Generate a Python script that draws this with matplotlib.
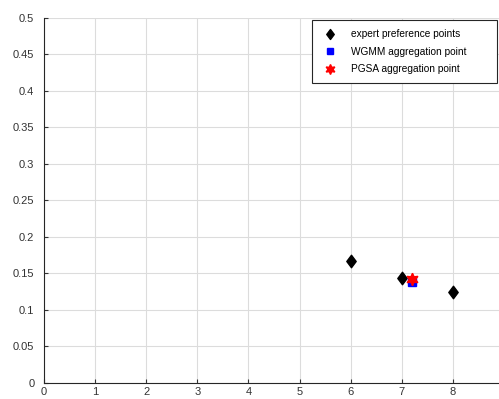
import numpy as np
import matplotlib.pyplot as plt
from matplotlib.path import Path

# Datos
expert_x = np.array([6, 7, 8], dtype=float)
expert_y = np.array([0.167, 0.1435, 0.125])
wgmm_x = [7.2]
wgmm_y = [0.1385]
pgsa_x = [7.2]
pgsa_y = [0.1425]

x_ticks = np.arange(0, 9)
y_ticks = np.arange(0, 0.51, 0.05)

plt.rcParams['font.family'] = ['Liberation Sans', 'DejaVu Sans']

# diamante estilo MATLAB (mas ancho que 'd')
diamante = Path([(0, 1), (0.75, 0), (0, -1), (-0.75, 0), (0, 1)],
                [Path.MOVETO, Path.LINETO, Path.LINETO, Path.LINETO, Path.CLOSEPOLY])

fig = plt.figure(figsize=(4.99, 3.99), dpi=100)
ax = fig.add_axes([44 / 499, 16 / 399, 455 / 499, 365.5 / 399])

ax.plot(expert_x, expert_y, marker=diamante, linestyle='none', color='k',
        markersize=9, label='expert preference points')
ax.plot(wgmm_x, wgmm_y, 's', color='blue', markersize=6, label='WGMM aggregation point')
ax.plot(pgsa_x, pgsa_y, marker=(6, 1, 0), linestyle='none', color='red',
        markersize=9, label='PGSA aggregation point')

ax.set_xlim(0, 8.9)
ax.set_ylim(0, 0.5)
ax.set_xticks(x_ticks)
ax.set_yticks(y_ticks)
ax.set_xticklabels([str(v) for v in x_ticks])
ax.set_yticklabels(['0', '0.05', '0.1', '0.15', '0.2', '0.25', '0.3', '0.35', '0.4', '0.45', '0.5'])
ax.grid(True, color='#dcdcdc', linewidth=0.8)
ax.set_axisbelow(True)
ax.spines['top'].set_visible(False)
ax.spines['right'].set_visible(False)
ax.spines['left'].set_color('#262626')
ax.spines['bottom'].set_color('#262626')
ax.tick_params(direction='in', length=3, labelsize=8, colors='#333333')
ax.tick_params(axis='y', pad=7)
ax.tick_params(axis='x', pad=3)

leg = ax.legend(loc='upper left', mode='expand',
                bbox_to_anchor=(312 / 499, 1 - 84 / 399, 185 / 499, 64 / 399),
                bbox_transform=fig.transFigure, borderaxespad=0, markerscale=0.8,
                fontsize=7.3, fancybox=False, edgecolor='#262626', framealpha=1,
                handlelength=1.8, handletextpad=1.1, borderpad=0.9, labelspacing=0.75)
leg.get_frame().set_linewidth(0.8)

fig.savefig('out.png', dpi=100)
